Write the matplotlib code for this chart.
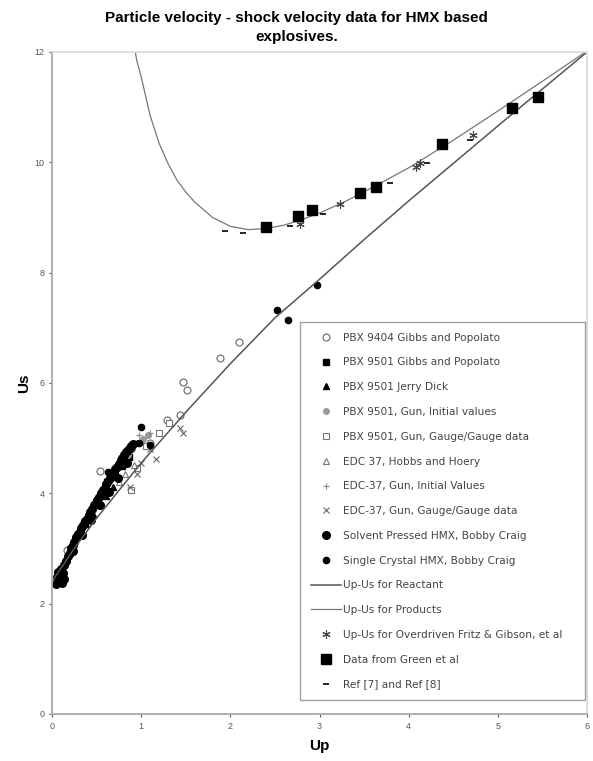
import matplotlib
matplotlib.use("Agg")
import matplotlib.pyplot as plt

plt.rcParams['font.family'] = ['Liberation Sans', 'DejaVu Sans']

# PBX 9404 Gibbs and Popolato (open circles)
pbx9404_up = [0.17, 0.54, 1.10, 1.29, 1.43, 1.47, 1.51, 1.88, 2.10]
pbx9404_us = [2.97, 4.40, 4.91, 5.33, 5.42, 6.02, 5.88, 6.45, 6.75]

# PBX 9501 Gibbs and Popolato
pbx9501_gp_up = [0.62, 0.70, 0.78, 0.86]
pbx9501_gp_us = [4.20, 4.32, 4.50, 4.66]

# PBX 9501 Jerry Dick
pbx9501_dick_up = [0.38, 0.46, 0.52, 0.60, 0.68]
pbx9501_dick_us = [3.45, 3.62, 3.78, 3.95, 4.12]

# PBX 9501, Gun, Initial values
pbx9501_gun_up = [0.80, 0.85, 0.90, 0.95, 1.02, 1.08]
pbx9501_gun_us = [4.55, 4.70, 4.80, 4.92, 4.98, 5.05]

# PBX 9501, Gun, Gauge/Gauge data
pbx9501_gauge_up = [0.89, 0.95, 1.05, 1.20, 1.31]
pbx9501_gauge_us = [4.06, 4.45, 4.85, 5.10, 5.27]

# EDC 37, Hobbs and Hoery
edc_hh_up = [0.75, 0.82, 0.92]
edc_hh_us = [4.20, 4.35, 4.52]

# EDC-37, Gun, Initial Values
edc_gun_up = [0.80, 0.88, 0.98, 1.10]
edc_gun_us = [4.75, 4.90, 5.05, 5.10]

# EDC-37, Gun, Gauge/Gauge data
edc_gauge_up = [0.87, 0.95, 1.00, 1.10, 1.17, 1.43, 1.47]
edc_gauge_us = [4.12, 4.35, 4.55, 4.80, 4.63, 5.18, 5.09]

# Solvent Pressed HMX, Bobby Craig
solvent_up = [0.05, 0.06, 0.07, 0.08, 0.09, 0.10, 0.11, 0.12, 0.14, 0.16,
              0.18, 0.20, 0.21, 0.23, 0.25, 0.27, 0.29, 0.31, 0.33, 0.35,
              0.37, 0.39, 0.41, 0.43, 0.45, 0.47, 0.49, 0.51, 0.53, 0.55,
              0.57, 0.59, 0.61, 0.63, 0.65, 0.67, 0.69, 0.71, 0.73, 0.75,
              0.77, 0.79, 0.81, 0.83, 0.85, 0.87, 0.89, 0.91, 0.13, 0.24,
              0.34, 0.44, 0.54, 0.64, 0.74, 0.84]
solvent_us = [2.35, 2.48, 2.58, 2.40, 2.52, 2.62, 2.38, 2.56, 2.70, 2.78,
              2.86, 2.92, 3.00, 3.06, 3.12, 3.20, 3.26, 3.30, 3.38, 3.42,
              3.50, 3.54, 3.60, 3.66, 3.72, 3.78, 3.82, 3.88, 3.94, 4.00,
              4.06, 4.10, 4.16, 4.22, 4.28, 4.32, 4.38, 4.44, 4.48, 4.54,
              4.60, 4.64, 4.70, 4.74, 4.78, 4.82, 4.86, 4.90, 2.45, 2.95,
              3.25, 3.52, 3.78, 4.02, 4.28, 4.55]

# Single Crystal HMX, Bobby Craig
crystal_up = [0.63, 0.97, 1.00, 1.10, 2.52, 2.65, 2.97]
crystal_us = [4.39, 4.91, 5.21, 4.87, 7.33, 7.14, 7.78]

# Up-Us for Reactant
reactant_up = [0.0, 0.25, 0.5, 1.0, 1.5, 2.0, 2.5, 3.0, 3.5, 4.0, 4.5, 5.0, 5.5, 6.0]
reactant_us = [2.40, 3.00, 3.55, 4.55, 5.47, 6.35, 7.18, 7.88, 8.60, 9.30,
               9.98, 10.66, 11.33, 12.0]

# Up-Us for Products
products_up = [0.88, 0.95, 1.0, 1.1, 1.2, 1.3, 1.4, 1.5, 1.6, 1.8, 2.0, 2.2,
               2.4, 2.6, 2.8, 3.0, 3.3, 3.6, 4.0, 4.5, 5.0, 5.5, 6.0]
products_us = [12.5, 11.85, 11.55, 10.85, 10.35, 9.98, 9.68, 9.46, 9.28, 9.0,
               8.84, 8.78, 8.80, 8.86, 8.96, 9.08, 9.30, 9.55, 9.90, 10.40,
               10.93, 11.47, 12.02]

# Up-Us for Overdriven Fritz & Gibson, et al
overdriven_up = [2.78, 3.23, 4.08, 4.13, 4.72]
overdriven_us = [8.89, 9.24, 9.92, 9.98, 10.50]

# Data from Green et al
green_up = [2.40, 2.76, 2.92, 3.45, 3.63, 4.37, 5.16, 5.45]
green_us = [8.82, 9.03, 9.14, 9.44, 9.55, 10.33, 10.98, 11.19]

# Ref [7] and Ref [8]
ref_up = [1.94, 2.14, 2.67, 3.04, 3.79, 4.20, 4.69]
ref_us = [8.75, 8.71, 8.85, 9.07, 9.62, 9.98, 10.40]

fig = plt.figure(figsize=(5.93, 7.61), dpi=100)
ax = fig.add_axes([0.0877, 0.0618, 0.9023, 0.8699])

ax.plot(pbx9404_up, pbx9404_us, 'o', ms=5, mfc='white', mec='#666', mew=0.8,
        label='PBX 9404 Gibbs and Popolato')
ax.plot(pbx9501_gp_up, pbx9501_gp_us, 's', ms=4.5, color='black',
        label='PBX 9501 Gibbs and Popolato')
ax.plot(pbx9501_dick_up, pbx9501_dick_us, '^', ms=4, color='black',
        label='PBX 9501 Jerry Dick')
ax.plot(pbx9501_gun_up, pbx9501_gun_us, 'o', ms=4, color='#999',
        label='PBX 9501, Gun, Initial values')
ax.plot(pbx9501_gauge_up, pbx9501_gauge_us, 's', ms=4.5, mfc='white', mec='#777', mew=0.8,
        label='PBX 9501, Gun, Gauge/Gauge data')
ax.plot(edc_hh_up, edc_hh_us, '^', ms=4.5, mfc='white', mec='#777', mew=0.8,
        label='EDC 37, Hobbs and Hoery')
ax.plot(edc_gun_up, edc_gun_us, '+', ms=5, color='#888', mew=0.8,
        label='EDC-37, Gun, Initial Values')
ax.plot(edc_gauge_up, edc_gauge_us, 'x', ms=5, color='#666', mew=0.8,
        label='EDC-37, Gun, Gauge/Gauge data')
ax.plot(solvent_up, solvent_us, 'o', ms=5.5, color='black',
        label='Solvent Pressed HMX, Bobby Craig')
ax.plot(crystal_up, crystal_us, 'o', ms=4.5, color='black',
        label='Single Crystal HMX, Bobby Craig')
ax.plot(reactant_up, reactant_us, '-', color='#555', lw=1.1,
        label='Up-Us for Reactant')
ax.plot(products_up, products_us, '-', color='#777', lw=0.9,
        label='Up-Us for Products')
ax.plot(overdriven_up, overdriven_us, ls='none', marker=(6, 2, 0), ms=6,
        color='#444', mew=0.8, label='Up-Us for Overdriven Fritz & Gibson, et al')
ax.plot(green_up, green_us, 's', ms=6.5, color='black',
        label='Data from Green et al')
ax.plot(ref_up, ref_us, '_', ms=5, color='black', mew=1.2,
        label='Ref [7] and Ref [8]')

ax.set_xlim(0, 6)
ax.set_ylim(0, 12)
ax.set_xticks(range(0, 7))
ax.set_yticks(range(0, 13, 2))
ax.tick_params(labelsize=6.5, colors='#555', length=2)
for s in ['left', 'bottom']:
    ax.spines[s].set_color('#aaa')
    ax.spines[s].set_linewidth(1.3)
for s in ['top', 'right']:
    ax.spines[s].set_color('#ddd')
    ax.spines[s].set_linewidth(1.3)

ax.set_xlabel('Up', fontsize=11, fontweight='bold', labelpad=6)
ax.set_ylabel('Us', fontsize=11, fontweight='bold', labelpad=2)

fig.text(0.5, 0.986, 'Particle velocity - shock velocity data for HMX based\nexplosives.',
         ha='center', va='top', fontsize=11, fontweight='bold', linespacing=1.45)

leg = ax.legend(loc='lower left', bbox_to_anchor=(0.4636, 0.021, 0.5325, 0.5645),
                mode='expand', borderaxespad=0,
                prop={'family': 'DejaVu Sans', 'size': 7.6},
                labelspacing=1.4, handlelength=2.9, handletextpad=0.2,
                borderpad=1.0, frameon=True, fancybox=False, labelcolor='#444')
leg.get_frame().set_edgecolor('#888')
leg.get_frame().set_linewidth(1.0)

fig.savefig('out.png', dpi=100)
